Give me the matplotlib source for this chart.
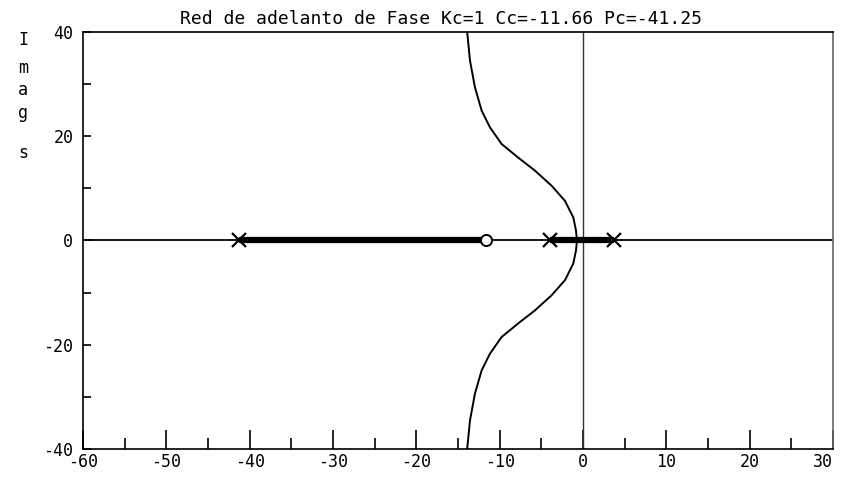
import numpy as np
import matplotlib
matplotlib.use("Agg")
import matplotlib.pyplot as plt

# polos y cero del lazo
polos = [-41.25, -4.0, 3.7]
ceros = [-11.66]
# tramos del lugar de raices sobre el eje real
tramos_reales = [(-41.25, -11.66), (-4.0, 3.7)]
# rama compleja superior (la inferior es su espejo)
rama_x = [-13.9, -13.56, -12.97, -12.16, -11.16, -9.76, -7.77, -5.76, -3.76, -2.16, -1.16, -0.84, -0.76]
rama_y = [40.0, 34.5, 29.4, 24.9, 21.7, 18.5, 15.9, 13.4, 10.5, 7.6, 4.4, 1.9, 0.6]

x_ticks = [-60, -50, -40, -30, -20, -10, 0, 10, 20, 30]
x_minor = [-55, -45, -35, -25, -15, -5, 5, 15, 25]
y_ticks = [-40, -20, 0, 20, 40]
y_minor = [-30, -10, 10, 30]

titulo = "Red de adelanto de Fase Kc=1 Cc=-11.66 Pc=-41.25"
etiqueta_y = ["I", "m", "a", "g", "", "s"]

plt.rcParams['font.family'] = ['DejaVu Sans Mono']
plt.rcParams['axes.unicode_minus'] = False

fig = plt.figure(figsize=(8.41, 4.79), dpi=100)
ax = fig.add_axes([83 / 841, 1 - 449 / 479, 750 / 841, 417 / 479])

ax.set_xlim(-60, 30)
ax.set_ylim(-40, 40)

ax.axhline(0, color="black", lw=1.3)
ax.axvline(0, color="#333333", lw=1.0)

for a, b in tramos_reales:
    ax.plot([a, b], [0, 0], color="black", lw=4.5, solid_capstyle="butt")

rx = np.array(rama_x)
ry = np.array(rama_y)
ax.plot(rx, ry, color="black", lw=1.4)
ax.plot(rx, -ry, color="black", lw=1.4)

ax.plot(polos, [0] * len(polos), "x", color="black", ms=10, mew=1.6)
ax.plot(ceros, [0] * len(ceros), "o", mfc="white", mec="black", ms=8, mew=1.4)

ax.set_xticks(x_ticks)
ax.set_xticks(x_minor, minor=True)
ax.set_yticks(y_ticks)
ax.set_yticks(y_minor, minor=True)
etiquetas = ax.set_xticklabels([str(v) for v in x_ticks])
etiquetas[-1].set_ha("right")
etiquetas[-1].set_x(31)
ax.tick_params(axis="x", which="major", direction="in", length=13.5, width=1.2, pad=3, labelsize=12)
ax.tick_params(axis="x", which="minor", direction="in", length=8, width=1.2)
ax.tick_params(axis="y", which="both", direction="in", length=5.5, width=1.2, pad=7, labelsize=12)
ax.tick_params(top=False, right=False)

for s in ax.spines.values():
    s.set_linewidth(1.2)
    s.set_color("black")
ax.spines["right"].set_color("#666666")

fig.text(441 / 841, 1 - 19 / 479, titulo, ha="center", va="center", fontsize=13)

ys = [40, 68, 90, 113, 133, 153]
for letra, yp in zip(etiqueta_y, ys):
    if letra:
        fig.text(23 / 841, 1 - yp / 479, letra, ha="center", va="center", fontsize=12)

fig.savefig("out.png", dpi=100)
